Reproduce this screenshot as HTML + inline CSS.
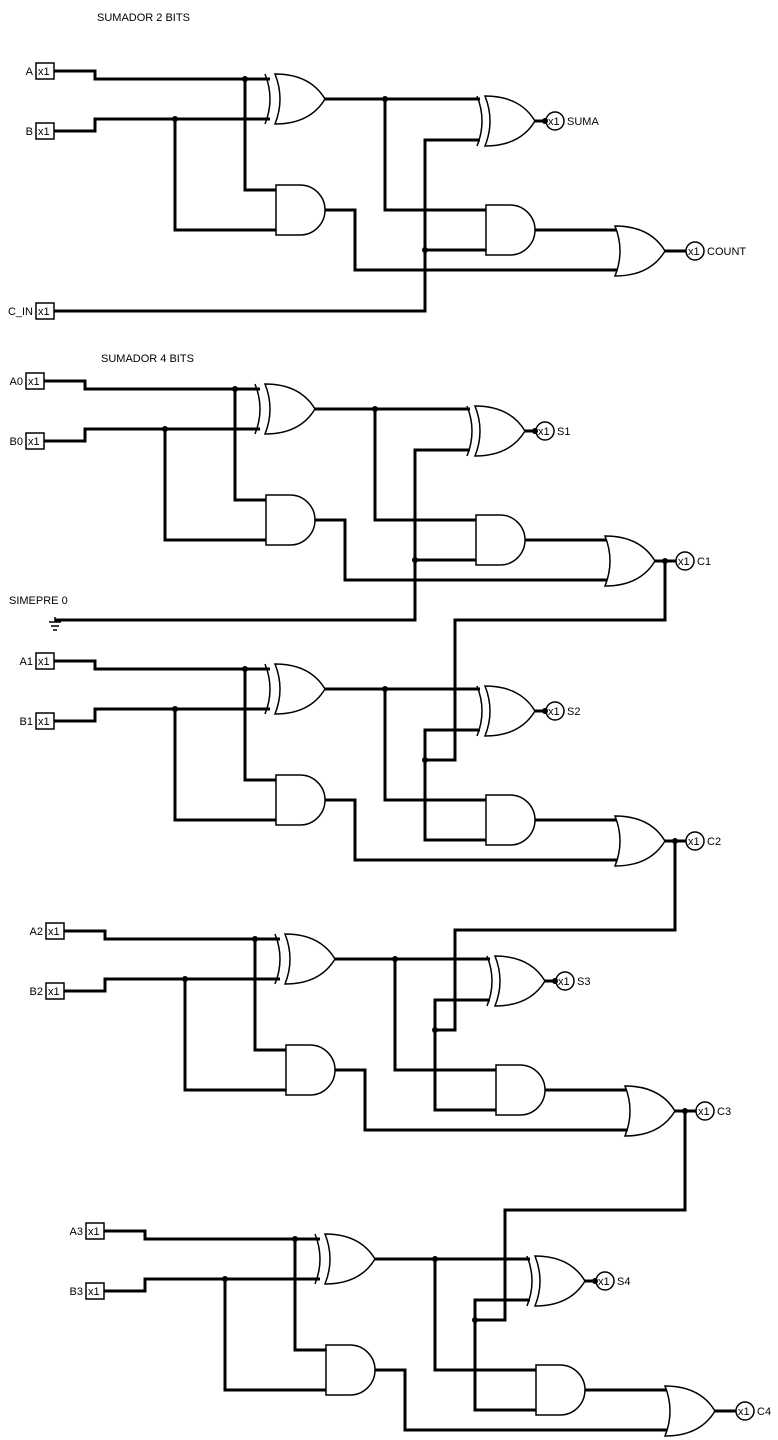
<!DOCTYPE html>
<html><head><meta charset="utf-8"><style>
html,body{margin:0;padding:0;background:#fff;}
svg{display:block;}
text{font-family:"Liberation Sans",sans-serif;font-size:11px;fill:#000;}
.w{fill:none;stroke:#000;stroke-width:3;}
.g{fill:#fff;stroke:#000;stroke-width:1.5;}
.gl{fill:none;stroke:#000;stroke-width:1.5;}
</style></head><body>
<svg width="778" height="1440" viewBox="0 0 778 1440" xmlns="http://www.w3.org/2000/svg">
<defs>
<g id="blk">
  <!-- input boxes -->
  <rect x="36" y="63" width="18" height="16" class="g"/>
  <text x="38" y="75">x1</text>
  <rect x="36" y="123" width="18" height="16" class="g"/>
  <text x="38" y="135">x1</text>
  <!-- wires -->
  <path class="w" d="M54,71 H95 V79 H270"/>
  <path class="w" d="M54,131 H95 V119 H270"/>
  <path class="w" d="M245,79 V190 H276"/>
  <path class="w" d="M175,119 V230 H276"/>
  <path class="w" d="M325,99 H480"/>
  <path class="w" d="M385,99 V210 H486"/>
  <path class="w" d="M325,210 H355 V270 H620"/>
  <path class="w" d="M535,230 H620"/>
  <path class="w" d="M665,251 H686"/>
  <path class="w" d="M535,121 H546"/>
  <path class="w" d="M480,140 H425 V250 H486"/>
  <!-- XOR1 -->
  <path class="gl" d="M265,74 Q275,99 265,124"/>
  <path class="g" d="M275,74 Q310,74 325,99 Q310,124 275,124 Q285,99 275,74 Z"/>
  <!-- AND1 -->
  <path class="g" d="M276,185 H300 A25,25 0 0 1 300,235 H276 Z"/>
  <!-- XOR2 -->
  <path class="gl" d="M477,96 Q487,121 477,146"/>
  <path class="g" d="M485,96 Q520,96 535,121 Q520,146 485,146 Q495,121 485,96 Z"/>
  <!-- AND2 -->
  <path class="g" d="M486,205 H510 A25,25 0 0 1 510,255 H486 Z"/>
  <!-- OR -->
  <path class="g" d="M615,226 Q650,226 665,251 Q650,276 615,276 Q625,251 615,226 Z"/>
  <!-- output circles -->
  <circle cx="555" cy="121" r="9" class="g"/>
  <text x="548" y="125">x1</text>
  <circle cx="695" cy="251" r="9" class="g"/>
  <text x="688" y="255">x1</text>
  <!-- dots -->
  <circle cx="245" cy="79" r="3"/>
  <circle cx="175" cy="119" r="3"/>
  <circle cx="385" cy="99" r="3"/>
  <circle cx="545" cy="121" r="3"/>
</g>
</defs>

<text x="97" y="21">SUMADOR 2 BITS</text>
<text x="101" y="362">SUMADOR 4 BITS</text>
<text x="9" y="604">SIMEPRE 0</text>

<!-- Block 1 -->
<use href="#blk" transform="translate(0,0)"/>
<text x="33" y="75" text-anchor="end">A</text>
<text x="33" y="135" text-anchor="end">B</text>
<text x="567" y="125">SUMA</text>
<text x="707" y="255">COUNT</text>
<rect x="36" y="303" width="18" height="16" class="g"/>
<text x="38" y="315">x1</text>
<text x="33" y="315" text-anchor="end">C_IN</text>
<path class="w" d="M54,311 H425 V250"/>
<circle cx="425" cy="250" r="3"/>

<!-- A0 block -->
<use href="#blk" transform="translate(-10,310)"/>
<text x="23" y="385" text-anchor="end">A0</text>
<text x="23" y="445" text-anchor="end">B0</text>
<text x="557" y="435">S1</text>
<text x="697" y="565">C1</text>
<path class="w" d="M55,620 H415 V560"/>
<circle cx="415" cy="560" r="3"/>
<path class="gl" d="M55,617 V622 M49,622 H61 M51,626 H59 M53,630 H57"/>

<!-- A1 block -->
<use href="#blk" transform="translate(0,590)"/>
<text x="33" y="665" text-anchor="end">A1</text>
<text x="33" y="725" text-anchor="end">B1</text>
<text x="567" y="715">S2</text>
<text x="707" y="845">C2</text>
<path class="w" d="M665,561 V620 H455 V760 H425"/>
<circle cx="665" cy="561" r="3"/>
<circle cx="425" cy="760" r="3"/>

<!-- A2 block -->
<use href="#blk" transform="translate(10,860)"/>
<text x="43" y="935" text-anchor="end">A2</text>
<text x="43" y="995" text-anchor="end">B2</text>
<text x="577" y="985">S3</text>
<text x="717" y="1115">C3</text>
<path class="w" d="M675,841 V930 H455 V1030 H435"/>
<circle cx="675" cy="841" r="3"/>
<circle cx="435" cy="1030" r="3"/>

<!-- A3 block -->
<use href="#blk" transform="translate(50,1160)"/>
<text x="83" y="1235" text-anchor="end">A3</text>
<text x="83" y="1295" text-anchor="end">B3</text>
<text x="617" y="1285">S4</text>
<text x="757" y="1415">C4</text>
<path class="w" d="M685,1111 V1210 H505 V1320 H475"/>
<circle cx="685" cy="1111" r="3"/>
<circle cx="475" cy="1320" r="3"/>
</svg>
</body></html>
